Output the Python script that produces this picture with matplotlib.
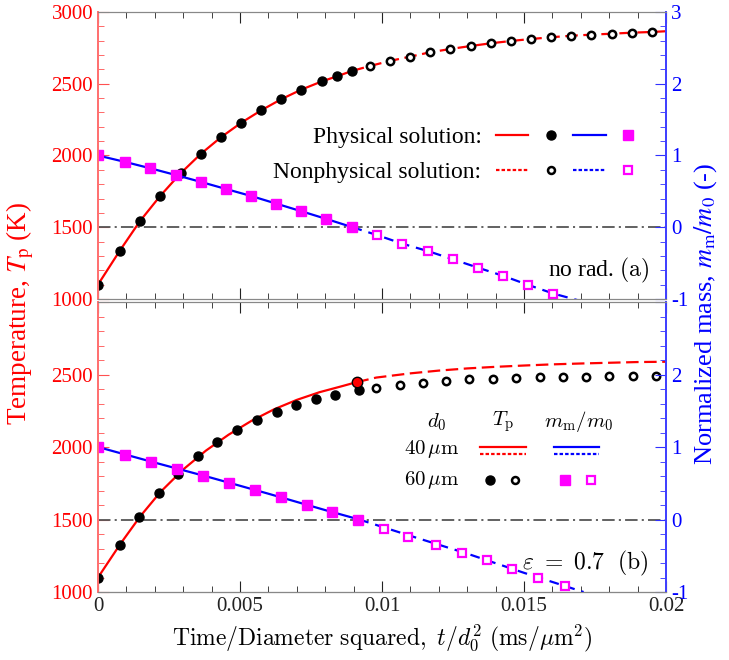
import matplotlib
matplotlib.use("Agg")
import matplotlib.pyplot as plt
from matplotlib.lines import Line2D
from matplotlib.legend_handler import HandlerTuple
from matplotlib.ticker import MultipleLocator

plt.rcParams["font.family"] = ["Liberation Serif", "DejaVu Serif"]
plt.rcParams["mathtext.fontset"] = "stix"
plt.rcParams["axes.unicode_minus"] = False
plt.rcParams["lines.scale_dashes"] = False

RED = "#ff0000"
BLUE = "#0000ff"
MAG = "#ff00ff"

# ---- (a) no radiation ----
# temperature, physical / nonphysical solution points
ta_phys = [0, 0.00077, 0.00148, 0.00219, 0.00291, 0.00362, 0.00433, 0.00505,
           0.00575, 0.00645, 0.00716, 0.00789, 0.00842, 0.00894]
Ta_phys = [1100, 1337, 1543, 1718, 1876, 2011, 2127, 2229, 2315, 2392, 2459,
           2517, 2552, 2589]
ta_non = [0.00958, 0.01028, 0.01099, 0.01169, 0.0124, 0.01312, 0.01383,
          0.01454, 0.01525, 0.01596, 0.01667, 0.01737, 0.0181, 0.0188, 0.01952]
Ta_non = [2624, 2659, 2689, 2719, 2742, 2763, 2782, 2798, 2812, 2824, 2835,
          2842, 2849, 2856, 2861]
Ta_end = (0.02, 2866)

# normalized mass points
tma_phys = [0, 0.00096, 0.00184, 0.00273, 0.00362, 0.0045, 0.00539, 0.00627,
            0.00716, 0.00804, 0.00896]
ma_phys = [1.0, 0.91, 0.822, 0.729, 0.632, 0.534, 0.436, 0.33, 0.223, 0.116, 0.0]
tma_non = [0.00981, 0.0107, 0.01163, 0.01249, 0.01337, 0.01427, 0.01515, 0.01603]
ma_non = [-0.107, -0.227, -0.334, -0.446, -0.562, -0.678, -0.804, -0.924]
ma_end = (0.0172, -1.05)

# ---- (b) eps = 0.7 ----
# 40 um curves
tb40_phys = [0, 0.0008, 0.0015, 0.0022, 0.003, 0.0038, 0.0046, 0.0054, 0.0062,
             0.007, 0.0078, 0.0086, 0.0091]
Tb40_phys = [1100, 1335, 1525, 1690, 1845, 1975, 2085, 2180, 2260, 2325, 2378,
             2420, 2447]
tb40_non = [0.0091, 0.0098, 0.011, 0.012, 0.013, 0.014, 0.015, 0.016, 0.017,
            0.018, 0.019, 0.02]
Tb40_non = [2447, 2479, 2508, 2527, 2542, 2553, 2562, 2570, 2576, 2581, 2586, 2588]
tmb40_phys = [0, 0.002, 0.004, 0.006, 0.008, 0.0092]
mb40_phys = [1.0, 0.785, 0.575, 0.356, 0.13, 0.0]
tmb40_non = [0.0092, 0.011, 0.013, 0.015, 0.0171]
mb40_non = [0.0, -0.225, -0.47, -0.735, -1.0]

# 60 um points
tb60_phys = [0, 0.00077, 0.00146, 0.00215, 0.00283, 0.00351, 0.0042, 0.00488,
             0.00559, 0.00629, 0.00698, 0.00766, 0.00836, 0.00918]
Tb60_phys = [1100, 1327, 1516, 1680, 1813, 1938, 2032, 2116, 2187, 2244, 2288,
             2329, 2358, 2390]
tb60_non = [0.00979, 0.01063, 0.01143, 0.01227, 0.01307, 0.01392, 0.01472,
            0.01556, 0.01636, 0.0172, 0.018, 0.01885, 0.01965]
Tb60_non = [2409, 2425, 2443, 2457, 2466, 2470, 2477, 2481, 2484, 2486, 2488,
            2491, 2493]
tmb60_phys = [0, 0.00096, 0.00188, 0.00279, 0.00371, 0.00461, 0.00553, 0.00643,
              0.00735, 0.00825, 0.00917]
mb60_phys = [1.0, 0.89, 0.80, 0.70, 0.607, 0.507, 0.407, 0.306, 0.205, 0.105, 0.0]
tmb60_non = [0.01007, 0.01092, 0.0119, 0.01282, 0.01371, 0.01459, 0.0155, 0.01644]
mb60_non = [-0.128, -0.24, -0.35, -0.455, -0.562, -0.685, -0.804, -0.914]
crit_40 = (0.00911, 2447)

FS = 16
RED_DASH = (9, 4)
BLUE_DASH = (7, 5)


def style(ax, axm, bottom_labels, label_top):
    ax.set_xlim(0, 0.02)
    ax.set_ylim(1000, 3000)
    axm.set_ylim(-1, 3)
    ax.xaxis.set_major_locator(MultipleLocator(0.005))
    ax.xaxis.set_minor_locator(MultipleLocator(0.001))
    ax.yaxis.set_minor_locator(MultipleLocator(100))
    axm.yaxis.set_minor_locator(MultipleLocator(0.2))
    ax.set_yticks([1000, 1500, 2000, 2500, 3000])
    ax.set_yticklabels(["1000", "1500", "2000", "2500", "3000" if label_top else ""])
    axm.set_yticks([-1, 0, 1, 2, 3])
    axm.set_yticklabels(["-1", "0", "1", "2", "3" if label_top else ""])
    ax.tick_params(axis="x", which="both", direction="in", top=True,
                   labelbottom=bottom_labels, labelsize=FS - 1, colors="#222222")
    ax.tick_params(axis="x", which="major", length=8)
    ax.tick_params(axis="x", which="minor", length=4.5)
    ax.tick_params(axis="y", which="both", direction="in", colors="#ff5050",
                   labelcolor=RED, labelsize=FS - 1, right=False)
    ax.tick_params(axis="y", which="major", length=8)
    ax.tick_params(axis="y", which="minor", length=4.5)
    axm.tick_params(axis="y", which="both", direction="in", colors="#3030ff",
                    labelcolor=BLUE, labelsize=FS - 1)
    axm.tick_params(axis="y", which="major", length=8)
    axm.tick_params(axis="y", which="minor", length=4.5)
    for a in (ax, axm):
        a.spines["left"].set_color("#ff7070")
        a.spines["right"].set_color("#4040ff")
        a.spines["top"].set_color("#888888")
        a.spines["bottom"].set_color("#888888")
        a.spines["left"].set_linewidth(1.3)
        a.spines["right"].set_linewidth(1.3)
    ax.axhline(1500, color="#555555", lw=1.3, dashes=(9, 3, 1.5, 3))


fig = plt.figure(figsize=(7.29, 6.6), dpi=100)
ax_a = fig.add_axes([0.1344, 0.547, 0.7791, 0.4348])
ax_b = fig.add_axes([0.1344, 0.103, 0.7791, 0.4394])
axm_a = ax_a.twinx()
axm_b = ax_b.twinx()
style(ax_a, axm_a, False, True)
style(ax_b, axm_b, True, False)
ax_b.spines["bottom"].set_color("#333333")

# ---- panel (a) ----
ax_a.plot(ta_phys, Ta_phys, color=RED, lw=1.6)
ax_a.plot([ta_phys[-1]] + ta_non + [Ta_end[0]], [Ta_phys[-1]] + Ta_non + [Ta_end[1]],
          color=RED, lw=1.6, dashes=RED_DASH)
ax_a.plot(ta_phys, Ta_phys, "o", color="black", ms=6.5, ls="none")
ax_a.plot(ta_non, Ta_non, "o", mfc="white", mec="black", mew=1.8, ms=5.3, ls="none")
axm_a.plot(tma_phys, ma_phys, color=BLUE, lw=1.6)
axm_a.plot([tma_phys[-1]] + tma_non + [ma_end[0]], [ma_phys[-1]] + ma_non + [ma_end[1]],
           color=BLUE, lw=1.6, dashes=BLUE_DASH)
axm_a.plot(tma_phys, ma_phys, "s", color=MAG, ms=7, ls="none")
axm_a.plot(tma_non, ma_non, "s", mfc="white", mec=MAG, mew=1.6, ms=6, ls="none")

h_phys = (Line2D([], [], color=RED, lw=1.6),
          Line2D([], [], color="black", marker="o", ms=6.5, ls="none"),
          Line2D([], [], color=BLUE, lw=1.6),
          Line2D([], [], color=MAG, marker="s", ms=7, ls="none"))
h_non = (Line2D([], [], color=RED, lw=1.6, dashes=(2.5, 1.5)),
         Line2D([], [], mfc="white", mec="black", mew=1.8, marker="o", ms=5, ls="none"),
         Line2D([], [], color=BLUE, lw=1.6, dashes=(2.5, 1.5)),
         Line2D([], [], mfc="white", mec=MAG, mew=1.6, marker="s", ms=6, ls="none"))
axm_a.legend([h_phys, h_non], ["Physical solution:", "Nonphysical solution:"],
             handler_map={tuple: HandlerTuple(ndivide=None, pad=0.25)},
             markerfirst=False, frameon=False, fontsize=FS + 1, handlelength=6.3,
             handletextpad=0.6, labelspacing=0.55, borderpad=0, borderaxespad=0,
             loc="upper right", bbox_to_anchor=(0.962, 0.60))
ax_a.text(0.97, 0.1, r"no rad. $\mathrm{(a)}$", transform=ax_a.transAxes,
          ha="right", va="center", fontsize=FS + 1, math_fontfamily="cm")

# ---- panel (b) ----
ax_b.plot(tb40_phys, Tb40_phys, color=RED, lw=1.6)
ax_b.plot(tb40_non, Tb40_non, color=RED, lw=1.6, dashes=RED_DASH)
ax_b.plot(tb60_phys, Tb60_phys, "o", color="black", ms=6.5, ls="none")
ax_b.plot(tb60_non, Tb60_non, "o", mfc="white", mec="black", mew=1.8, ms=5.3, ls="none")
ax_b.plot(*crit_40, "o", mfc=RED, mec="black", mew=1, ms=7.5)
axm_b.plot(tmb40_phys, mb40_phys, color=BLUE, lw=1.6)
axm_b.plot(tmb40_non, mb40_non, color=BLUE, lw=1.6, dashes=BLUE_DASH)
axm_b.plot(tmb60_phys, mb60_phys, "s", color=MAG, ms=7, ls="none")
axm_b.plot(tmb60_non, mb60_non, "s", mfc="white", mec=MAG, mew=1.6, ms=6, ls="none")
ax_b.text(0.97, 0.1, r"$\varepsilon\ =\ 0.7\ \ \mathrm{(b)}$", transform=ax_b.transAxes,
          ha="right", va="center", fontsize=FS + 1, math_fontfamily="cm")

# legend table of panel (b)
tr = axm_b.transAxes
leg_fs = FS - 1
for x, s in [(0.597, r"$d_0$"), (0.713, r"$T_\mathrm{p}$"), (0.847, r"$m_\mathrm{m}/m_0$")]:
    axm_b.text(x, 0.587, s, transform=tr, ha="center", va="center",
               fontsize=leg_fs, math_fontfamily="cm")
for y, s in [(0.493, r"$40\,\mu\mathrm{m}$"), (0.386, r"$60\,\mu\mathrm{m}$")]:
    axm_b.text(0.637, y, s, transform=tr, ha="right", va="center",
               fontsize=leg_fs, math_fontfamily="cm")
axm_b.plot([0.673, 0.754], [0.501, 0.501], color=RED, lw=1.6, transform=tr)
axm_b.plot([0.673, 0.754], [0.475, 0.475], color=RED, lw=1.6, dashes=(2.5, 1.5), transform=tr)
axm_b.plot([0.803, 0.882], [0.501, 0.501], color=BLUE, lw=1.6, transform=tr)
axm_b.plot([0.803, 0.882], [0.475, 0.475], color=BLUE, lw=1.6, dashes=(2.5, 1.5), transform=tr)
axm_b.plot([0.690], [0.386], "o", color="black", ms=6.5, transform=tr)
axm_b.plot([0.734], [0.386], "o", mfc="white", mec="black", mew=1.8, ms=5, transform=tr)
axm_b.plot([0.823], [0.386], "s", color=MAG, ms=7, transform=tr)
axm_b.plot([0.868], [0.386], "s", mfc="white", mec=MAG, mew=1.6, ms=6, transform=tr)

ax_b.set_xticks([0, 0.005, 0.01, 0.015, 0.02])
ax_b.set_xticklabels(["0", "0.005", "0.01", "0.015", "0.02"])
ax_b.set_xlabel(r"$\mathrm{Time/Diameter\ squared,}\ t/d_0^2\ (\mathrm{ms}/\mu\mathrm{m}^2)$",
                fontsize=FS + 1, math_fontfamily="cm", labelpad=5)

fig.text(0.028, 0.525, r"Temperature, $T_\mathrm{p}$ (K)", color=RED, rotation=90,
         ha="center", va="center", fontsize=19.5)
fig.text(0.968, 0.525, r"Normalized mass, $m_\mathrm{m}/m_0$ (-)", color=BLUE,
         rotation=90, ha="center", va="center", fontsize=19)

fig.savefig("out.png", dpi=100)
